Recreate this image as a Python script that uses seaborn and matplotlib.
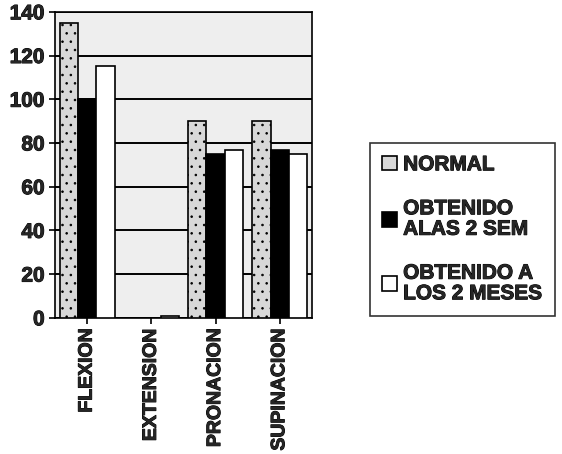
import seaborn as sns
import pandas as pd
import numpy as np
import matplotlib.pyplot as plt
import matplotlib.patheffects as pe

movimientos = ['FLEXION', 'EXTENSION', 'PRONACION', 'SUPINACION']
series = ['NORMAL', 'OBTENIDO\nALAS 2 SEM', 'OBTENIDO A\nLOS 2 MESES']
normal = [135, 0, 90, 90]
dos_sem = [100, 0, 75, 77]
dos_meses = [115, 1, 77, 75]

df = pd.DataFrame({
    'mov': movimientos * 3,
    'serie': [series[0]] * 4 + [series[1]] * 4 + [series[2]] * 4,
    'valor': normal + dos_sem + dos_meses,
})

sns.set_style('white')
plt.rcParams['font.family'] = ['Liberation Sans', 'DejaVu Sans']
plt.rcParams['font.weight'] = 'bold'
plt.rcParams['hatch.linewidth'] = 0.6

fig = plt.figure(figsize=(5.62, 4.54), dpi=100)
ax = fig.add_axes([0.098, 0.30, 0.457, 0.674])

colores = ['#d8d8d8', '#000000', '#ffffff']
ax = sns.barplot(data=df, x='mov', y='valor', hue='serie', palette=colores,
                 width=0.86, edgecolor='black', linewidth=1.2, ax=ax, zorder=3)

# dotted texture on the NORMAL bars
for bar in ax.containers[0]:
    bar.set_hatch('..')

ax.set_facecolor('#eeeeee')
ax.set_ylim(0, 140)
ax.set_yticks(range(0, 141, 20))
ax.yaxis.grid(True, color='black', linewidth=1.4, zorder=0)
ax.set_axisbelow(True)
ax.set_xlabel('')
ax.set_ylabel('')
for s in ax.spines.values():
    s.set_color('black')
    s.set_linewidth(1.2)
ax.tick_params(axis='y', labelsize=15)
ax.tick_params(axis='x', labelsize=14)
ax.tick_params(axis='both', length=4, width=1.2, color='black', left=True, bottom=True)

grueso = [pe.withStroke(linewidth=0.7, foreground='black')]
plt.setp(ax.get_xticklabels(), rotation=90, fontweight='bold', path_effects=grueso)
plt.setp(ax.get_yticklabels(), fontweight='bold', path_effects=grueso)

handles, labels = ax.get_legend_handles_labels()
ax.get_legend().remove()
leg = fig.legend(handles, labels, loc='center left', bbox_to_anchor=(0.658, 0.495),
                 frameon=True, fancybox=False, edgecolor='black', fontsize=15,
                 handlelength=0.7, handleheight=0.7, handletextpad=0.3,
                 labelspacing=1.2, borderpad=0.6, borderaxespad=0)
leg.get_frame().set_linewidth(1.2)
for t in leg.get_texts():
    t.set_fontweight('bold')
    t.set_linespacing(1.1)
    t.set_path_effects(grueso)

fig.savefig('out.png', dpi=100)
